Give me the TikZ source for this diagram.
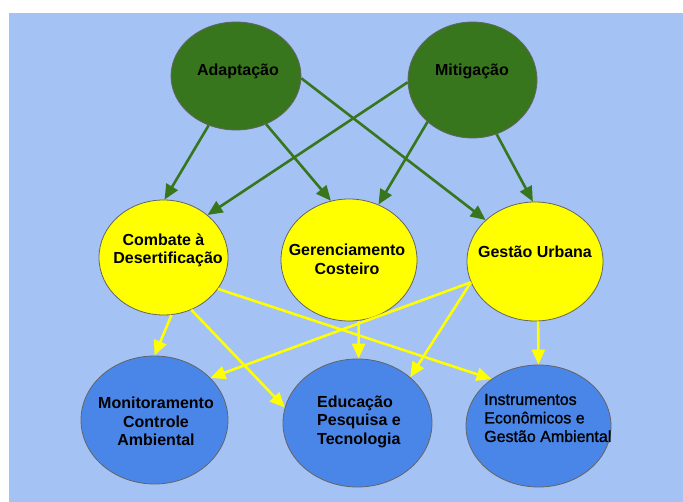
\documentclass[tikz,border=0pt]{standalone}
\usepackage{fontspec}
\setmainfont{Liberation Sans}
\newfontfamily\midfont[FakeBold=1.2]{Liberation Sans}
\usepackage{tikz}
\usetikzlibrary{arrows.meta,shapes.geometric}
\definecolor{sky}{RGB}{164,194,244}
\definecolor{leaf}{RGB}{56,118,29}
\definecolor{sun}{RGB}{255,255,0}
\definecolor{sea}{RGB}{74,134,232}
\definecolor{rim}{RGB}{100,100,100}
\tikzset{
  blob/.style={ellipse, draw=rim, line width=0.8pt, fill=#1, inner sep=0pt},
  lab/.style={font=\fontsize{16}{18.5}\selectfont\bfseries, inner sep=0pt},
  gmap/.style={-{Triangle[length=15pt,width=13pt]}, line width=2.6pt, color=leaf},
  ymap/.style={-{Triangle[length=15pt,width=13pt]}, line width=2.6pt, color=sun},
}

\begin{document}
\begin{tikzpicture}[x=1pt, y=-1pt]
  \useasboundingbox (0,0) rectangle (683,502);
  \fill[sky] (9,13) rectangle (683,502);
  % goals
  \node[blob=leaf, minimum width=130pt, minimum height=108pt] (adapt) at (236,76) {};
  \node[blob=leaf, minimum width=129pt, minimum height=116pt] (mitig) at (472.5,80) {};
  % areas
  \node[blob=sun, minimum width=129pt, minimum height=115pt] (comb) at (163.5,257.5) {};
  \node[blob=sun, minimum width=136pt, minimum height=122pt] (geren) at (349,260) {};
  \node[blob=sun, minimum width=136pt, minimum height=119pt] (urb) at (535,261.5) {};
  % instruments
  \node[blob=sea, minimum width=147pt, minimum height=128pt] (monit) at (154.5,420) {};
  \node[blob=sea, minimum width=149pt, minimum height=128pt] (educ) at (357.5,423) {};
  \node[blob=sea, minimum width=145pt, minimum height=122pt] (instr) at (538.5,426) {};
  \draw[gmap] (adapt.241) -- (comb.89); \draw[gmap] (adapt.302) -- (geren.107); \draw[gmap] (adapt.358) -- (urb.140);
  \draw[gmap] (mitig.182) -- (comb.44); \draw[gmap] (mitig.223) -- (geren.62); \draw[gmap] (mitig.294) -- (urb.92);
  \draw[ymap] (comb.278) -- (monit.90); \draw[ymap] (comb.298) -- (educ.168); \draw[ymap] (comb.330) -- (instr.135);
  \draw[ymap] (geren.279) -- (educ.89);
  \draw[ymap] (urb.198) -- (monit.37); \draw[ymap] (urb.198) -- (educ.41); \draw[ymap] (urb.273) -- (instr.90);
  % texts
  \node[lab] (adaptT) at (238,71) {Adaptação};
  \node[lab] (mitigT) at (472,71) {Mitigação};
  \node[lab, align=center] (combT) at (168,250.5) {Combate à\hspace*{9pt}\\Desertificação};
  \node[lab, align=center] (gerenT) at (347,259.5) {Gerenciamento\\Costeiro};
  \node[lab] (urbT) at (535,252) {Gestão Urbana};
  \node[lab, align=center] (monitT) at (156,421.5) {Monitoramento\\Controle\\Ambiental};
  \node[lab, align=left, anchor=west] (educT) at (317,421.5) {Educação\\Pesquisa e\\Tecnologia};
  \node[lab, align=left, anchor=west, font=\fontsize{16}{18.5}\selectfont\midfont] (instrT) at (484,418) {Instrumentos\\Econômicos e\\Gestão Ambiental};
\end{tikzpicture}
\end{document}
